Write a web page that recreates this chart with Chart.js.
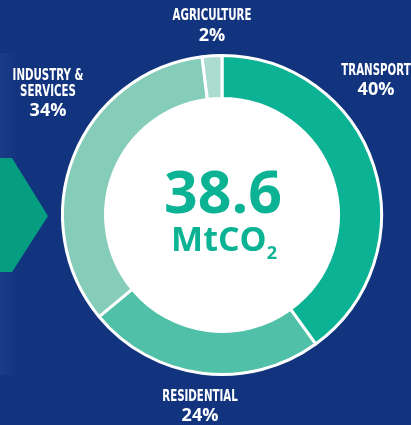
<!DOCTYPE html>
<html>
<head>
<meta charset="utf-8">
<script src="https://cdn.jsdelivr.net/npm/chart.js@4"></script>
<style>
  html, body { margin: 0; padding: 0; background: #12347f; }
  #wrap { width: 411px; height: 425px; position: relative; }
</style>
</head>
<body>
<div id="wrap"><canvas id="donut" width="411" height="425"></canvas></div>
<script>
// sectors and their share of emissions (%)
const sectors = ['TRANSPORT', 'RESIDENTIAL', 'INDUSTRY & SERVICES', 'AGRICULTURE'];
const shares = [40, 24, 34, 2];
const sectorColors = ['#0bb394', '#50c0a8', '#85cdb9', '#acdccf'];
const totalValue = '38.6';
const totalUnit = 'MtCO';

const narrow = '"Liberation Sans Narrow", "DejaVu Sans Condensed", sans-serif';
const wide = '"Open Sans", "Liberation Sans", sans-serif';

// label blocks around the ring: lines of name text, then the percentage
const labelSpots = [
  { x: 376, y: 71, lines: ['TRANSPORT'] },
  { x: 200, y: 397, lines: ['RESIDENTIAL'] },
  { x: 48, y: 76, lines: ['INDUSTRY &', 'SERVICES'] },
  { x: 212, y: 16.5, lines: ['AGRICULTURE'] }
];

const backdrop = {
  id: 'backdrop',
  beforeDraw(chart) {
    const ctx = chart.ctx;
    ctx.save();
    ctx.fillStyle = '#12347f';
    ctx.fillRect(0, 0, chart.width, chart.height);
    // faint band on the left edge
    const g = ctx.createLinearGradient(0, 0, 18, 0);
    g.addColorStop(0, '#1c3c88');
    g.addColorStop(1, 'rgba(28,60,136,0)');
    ctx.fillStyle = g;
    ctx.fillRect(0, 53, 18, 322);
    // green arrow
    ctx.fillStyle = '#069e80';
    ctx.beginPath();
    ctx.moveTo(0, 158);
    ctx.lineTo(12, 158);
    ctx.lineTo(48, 216);
    ctx.lineTo(12, 272);
    ctx.lineTo(0, 272);
    ctx.closePath();
    ctx.fill();
    ctx.restore();
  }
};

const centerText = {
  id: 'centerText',
  beforeDatasetsDraw(chart) {
    const arc = chart.getDatasetMeta(0).data[0];
    const ctx = chart.ctx;
    ctx.save();
    ctx.fillStyle = '#ffffff';
    ctx.beginPath();
    ctx.arc(arc.x, arc.y, arc.innerRadius, 0, Math.PI * 2);
    ctx.fill();
    ctx.restore();
  },
  afterDraw(chart) {
    const arc = chart.getDatasetMeta(0).data[0];
    const ctx = chart.ctx;
    ctx.save();
    ctx.fillStyle = '#0bb394';
    ctx.textAlign = 'center';
    ctx.textBaseline = 'alphabetic';
    ctx.font = 'bold 59px ' + wide;
    ctx.fillText(totalValue, arc.x + 1, 213);
    ctx.font = 'bold 34px ' + wide;
    const w = ctx.measureText(totalUnit).width;
    ctx.font = 'bold 18px ' + wide;
    const w2 = ctx.measureText('2').width;
    const left = arc.x + 2 - (w + w2) / 2;
    ctx.textAlign = 'left';
    ctx.font = 'bold 34px ' + wide;
    ctx.fillText(totalUnit, left, 251);
    ctx.font = 'bold 18px ' + wide;
    ctx.fillText('2', left + w, 259);

    // sector labels (names squeezed to look condensed)
    ctx.fillStyle = '#ffffff';
    ctx.textAlign = 'center';
    ctx.textBaseline = 'middle';
    const squeeze = 0.76;
    labelSpots.forEach((s, i) => {
      let y = s.y;
      ctx.font = 'bold 15px ' + narrow;
      s.lines.forEach(line => {
        ctx.save();
        ctx.translate(s.x, y);
        ctx.scale(squeeze, 1);
        ctx.fillText(line, 0, 0);
        ctx.restore();
        y += 16;
      });
      ctx.font = 'bold 18px ' + wide;
      ctx.fillText(shares[i] + '%', s.x, y + 3);
    });
    ctx.restore();
  }
};

new Chart(document.getElementById('donut'), {
  type: 'doughnut',
  data: {
    labels: sectors,
    datasets: [{
      data: shares,
      backgroundColor: sectorColors,
      borderColor: '#ffffff',
      borderWidth: 3
    }]
  },
  options: {
    responsive: false,
    animation: false,
    cutout: '73%',
    layout: { padding: { left: 61, right: 28, top: 54, bottom: 49 } },
    plugins: {
      legend: { display: false },
      tooltip: { enabled: false }
    }
  },
  plugins: [backdrop, centerText]
});
</script>
</body>
</html>
